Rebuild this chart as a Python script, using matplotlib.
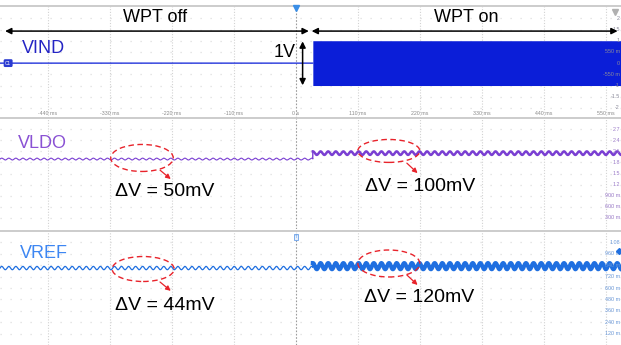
import numpy as np
import matplotlib
matplotlib.use("Agg")
import matplotlib.pyplot as plt
from matplotlib.patches import Ellipse

plt.rcParams['font.family'] = ['Liberation Sans', 'DejaVu Sans']

# ---------------- data ----------------
time_ticks_ms = [-440, -330, -220, -110, 0, 110, 220, 330, 440, 550]
time_tick_labels = ["-440 ms", "-330 ms", "-220 ms", "-110 ms", "0 s",
                    "110 ms", "220 ms", "330 ms", "440 ms", "550 ms"]
time_range_ms = [-525, 577]
wpt_on_ms = 30

vind_ticks = [2, 1.5, 1, 0.5, 0, -0.5, -1, -1.5, -2]
vind_tick_labels = ["2", "1.5", "1", "550 m", "0", "-550 m", "-1", "-1.5", "-2"]
vind_off_level = 0.0
vind_on_envelope = [-1.0, 1.0]

vldo_ticks = [2.7, 2.4, 2.1, 1.8, 1.5, 1.2, 0.9, 0.6, 0.3]
vldo_tick_labels = ["2.7", "2.4", "2.1", "1.8", "1.5", "1.2", "900 m", "600 m", "300 m"]
vldo_level = [1.89, 2.05]          # WPT off, WPT on (V)
vldo_ripple_pp = [0.05, 0.095]     # visible ripple (V)
vldo_period_ms = [12.5, 13.5]

vref_ticks = [1.08, 0.96, 0.84, 0.72, 0.60, 0.48, 0.36, 0.24, 0.12]
vref_tick_labels = ["1.08", "960 m", "840 m", "720 m", "600 m", "480 m", "360 m", "240 m", "120 m"]
vref_level = [0.81, 0.83]
vref_ripple_pp = [0.035, 0.065]
vref_period_ms = [12.5, 13.5]

delta_labels = ["\u0394V = 50mV", "\u0394V = 100mV", "\u0394V = 44mV", "\u0394V = 120mV"]

# ---------------- colours ----------------
C_VIND = "#0b1ed8"
C_VIND_TXT = "#2424c4"
C_VLDO = "#7a3fd2"
C_VLDO_TXT = "#8a52d4"
C_VREF = "#1f6fe0"
C_VREF_TXT = "#3d86f2"
RED = "#e8232b"
GRID = "#d2d2d2"

fig = plt.figure(figsize=(6.21, 3.45), dpi=100)
ax1 = fig.add_axes([0, 1 - 118 / 345, 1, 112 / 345])
ax2 = fig.add_axes([0, 1 - 229 / 345, 1, 111 / 345])
ax3 = fig.add_axes([0, 0, 1, 114 / 345])

ylims = [(-2.45, 2.55), (0, 3.0), (0, 1.2)]
ticks = [vind_ticks, vldo_ticks, vref_ticks]
tlabels = [vind_tick_labels, vldo_tick_labels, vref_tick_labels]
tcolors = ["#8a8a9a", "#9a7ac8", "#6a98d8"]

for ax, yl, tk, tl, tc in zip([ax1, ax2, ax3], ylims, ticks, tlabels, tcolors):
    ax.set_xlim(time_range_ms)
    ax.set_ylim(yl)
    ax.set_xticks([])
    ax.set_yticks([])
    for s in ["left", "right", "bottom"]:
        ax.spines[s].set_visible(False)
    ax.spines["top"].set_color("#c8c8c8")
    ax.spines["top"].set_linewidth(1.3)
    ax.patch.set_alpha(0)
    for t in time_ticks_ms:
        if t == 0:
            ax.axvline(t, color="#9c9c9c", lw=0.8, ls=(0, (1.5, 1.5)), zorder=1)
        else:
            ax.axvline(t, color=GRID, lw=0.8, ls=(0, (1, 1.5)), zorder=1)
    for v in tk:
        ax.axhline(v, color="#dedede", lw=0.9, ls=(0, (1, 7)), zorder=1)
    for v, s in zip(tk, tl):
        ax.text(575, v, s, ha="right", va="center", fontsize=3.9, color=tc, zorder=6)

# time tick labels at bottom of top panel
for t, s in zip(time_ticks_ms, time_tick_labels):
    ax1.text(t, -2.23, s, ha="center", va="center", fontsize=3.8, color="#8a8a8a")

t = np.linspace(time_range_ms[0], time_range_ms[1], 6000)
off = t < wpt_on_ms
on = ~off

# ---- VIND ----
ax1.plot(t[off], np.full(off.sum(), vind_off_level), color=C_VIND, lw=0.9, zorder=3)
ax1.fill_between(t[on], vind_on_envelope[0], vind_on_envelope[1], color=C_VIND,
                 lw=0, zorder=3)

# ---- VLDO ----
vldo_off = vldo_level[0] + vldo_ripple_pp[0] / 2 * np.sin(2 * np.pi * t[off] / vldo_period_ms[0])
vldo_on = vldo_level[1] + vldo_ripple_pp[1] / 2 * np.sin(2 * np.pi * t[on] / vldo_period_ms[1])
ax2.plot(t[off], vldo_off, color=C_VLDO, lw=0.8, zorder=3)
ax2.plot(t[on], vldo_on, color=C_VLDO, lw=1.8, zorder=3)
ax2.plot([t[off][-1], t[on][0]], [vldo_off[-1], vldo_on[0]], color=C_VLDO, lw=1.0, zorder=3)

# ---- VREF ----
vref_off = vref_level[0] + vref_ripple_pp[0] / 2 * np.sin(2 * np.pi * t[off] / vref_period_ms[0])
vref_on = vref_level[1] + vref_ripple_pp[1] / 2 * np.sin(2 * np.pi * t[on] / vref_period_ms[1])
ax3.plot(t[off], vref_off, color=C_VREF, lw=0.9, zorder=3)
ax3.plot(t[on], vref_on, color=C_VREF, lw=3.0, zorder=3)
ax3.plot([t[off][-1], t[on][0]], [vref_off[-1], vref_on[0]], color=C_VREF, lw=1.0, zorder=3)

# ---- scope markers ----
ax1.plot(0, 2.45, marker="v", color="#3a8ee6", ms=4.5, zorder=7, clip_on=False)
ax1.text(-516, 0, "C1", fontsize=3.4, color="white", ha="left", va="center", zorder=7,
         bbox=dict(boxstyle="round,pad=0.3", fc="#2a3ad0", ec="none"))
ax1.plot(566, 2.3, marker="v", color="#b0b0b0", ms=5, zorder=7)
ax3.text(0, 1.14, "T", fontsize=3, color="#4a90e8", ha="center", va="center", zorder=7,
         bbox=dict(boxstyle="square,pad=0.2", fc="#e8f0fb", ec="#6aa0e8", lw=0.6))
ax3.plot(574, 0.99, marker="D", color="#1f6fe0", ms=3, zorder=7)

# ---- top annotations ----
ax1.text(-250, 2.05, "WPT off", fontsize=13, ha="center", va="center", color="black")
ax1.text(303, 2.05, "WPT on", fontsize=13, ha="center", va="center", color="black")
arrow_kw = dict(arrowstyle="<|-|>", color="black", lw=1.1, mutation_scale=9,
                shrinkA=0, shrinkB=0)
ax1.annotate("", xy=(-516, 1.43), xytext=(23, 1.43), arrowprops=arrow_kw, zorder=8)
ax1.annotate("", xy=(28, 1.43), xytext=(571, 1.43), arrowprops=arrow_kw, zorder=8)
ax1.annotate("", xy=(12, 0.97), xytext=(12, -0.99), arrowprops=arrow_kw, zorder=8)
ax1.text(-1, 0.49, "1V", fontsize=13, ha="right", va="center", color="black")

ax1.text(-486, 0.67, "VIND", fontsize=13, ha="left", va="center", color=C_VIND_TXT)
ax2.text(-493, 2.32, "VLDO", fontsize=13, ha="left", va="center", color=C_VLDO_TXT)
ax3.text(-489, 0.958, "VREF", fontsize=13, ha="left", va="center", color=C_VREF_TXT)

# ---- red ellipses, arrows and delta-V labels ----
red_arrow = dict(arrowstyle="-|>", color=RED, lw=0.9, mutation_scale=7,
                 shrinkA=0, shrinkB=0)
ell_specs = [
    (ax2, (-273, 1.92), 111, 0.73, (-241, 1.59), (-222, 1.35), (-321, 1.0), delta_labels[0]),
    (ax2, (165, 2.11), 110, 0.62, (197, 1.78), (216, 1.51), (122, 1.16), delta_labels[1]),
    (ax3, (-271, 0.80), 110, 0.263, (-241, 0.663), (-222, 0.57), (-321, 0.42), delta_labels[2]),
    (ax3, (165, 0.858), 110, 0.284, (197, 0.737), (216, 0.632), (121, 0.505), delta_labels[3]),
]
for ax, c, w, h, a0, a1, tp, lab in ell_specs:
    ax.add_patch(Ellipse(c, w, h, fill=False, ec=RED, lw=1.0, ls=(0, (4, 2.5)), zorder=9))
    ax.annotate("", xy=a1, xytext=a0, arrowprops=red_arrow, zorder=9)
    ax.text(tp[0], tp[1], lab, fontsize=14, ha="left", va="center", color="black", zorder=9)

fig.savefig("out.png", dpi=100)
